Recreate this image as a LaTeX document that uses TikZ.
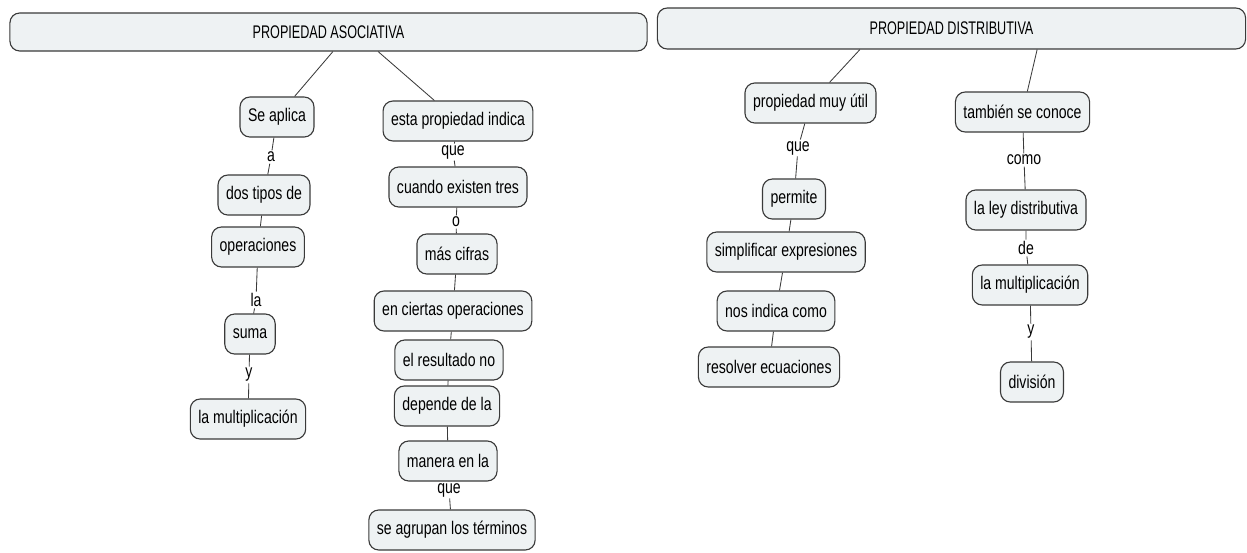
\documentclass[tikz,border=0pt]{standalone}
\usepackage{fontspec}
\setmainfont{Liberation Sans}[FakeStretch=0.77]
\newfontfamily\barfont{Liberation Sans}[FakeStretch=0.69]
\usetikzlibrary{positioning}
\definecolor{conceptfill}{HTML}{EEF2F3}
\definecolor{conceptline}{HTML}{3A3A3A}
\tikzset{
    x=0.025cm, y=-0.025cm, % one unit is one pixel of the map, y grows downwards
    concept/.style={draw=conceptline, thick, fill=conceptfill, rounded corners=7pt, minimum height=1cm, inner xsep=0.2cm, font=\fontsize{13}{15}\selectfont}, % the boxes
    topbar/.style={concept, font=\barfont\fontsize{13}{15}\selectfont}, % the two long headings
    linkword/.style={inner sep=1pt, font=\fontsize{13}{15}\selectfont}, % words on the lines
    link/.style={draw=conceptline, semithick},
}
\begin{document}
\begin{tikzpicture}
\useasboundingbox (0,0) rectangle (1247,552);
% headings
\node[topbar, minimum width=15.925cm, minimum height=0.95cm] (asoc)  at (328.5,32)   {PROPIEDAD ASOCIATIVA};
\node[topbar, minimum width=14.7cm, minimum height=1.025cm]  (distr) at (951.5,28.5) {PROPIEDAD DISTRIBUTIVA};

% asociativa, left branch
\node[concept] (seaplica) at (277,117) {Se aplica};
\node[linkword] (a) at (271,157) {a};
\node[concept] (dostipos) at (264,195) {dos tipos de};
\node[concept] (operaciones) at (258,247) {operaciones};
\node[linkword] (la) at (256,300) {la};
\node[concept] (suma) at (250,334) {suma};
\node[linkword] (y1) at (249,375) {y};
\node[concept] (multA) at (248,419) {la multiplicación};

% asociativa, right branch
\node[concept] (indica) at (458,121) {esta propiedad indica};
\node[linkword] (que1) at (453,152) {que};
\node[concept] (existen) at (458,187) {cuando existen tres};
\node[linkword] (o) at (456,222) {o};
\node[concept] (cifras) at (457,254) {más cifras};
\node[concept] (ciertas) at (453,311) {en ciertas operaciones};
\node[concept] (resultado) at (449,360) {el resultado no};
\node[concept] (depende) at (447,406) {depende de la};
\node[concept] (manera) at (448,461) {manera en la};
\node[linkword] (que2) at (449,490) {que};
\node[concept] (agrupan) at (452,530) {se agrupan los términos};

% distributiva, left branch
\node[concept] (util) at (810.5,103) {propiedad muy útil};
\node[linkword] (que3) at (798,148) {que};
\node[concept] (permite) at (794,199) {permite};
\node[concept] (simplificar) at (786,252) {simplificar expresiones};
\node[concept] (nosindica) at (776,311) {nos indica como};
\node[concept] (resolver) at (769,367) {resolver ecuaciones};

% distributiva, right branch
\node[concept] (conoce) at (1022.5,112) {también se conoce};
\node[linkword] (como) at (1024,160) {como};
\node[concept] (ley) at (1026,210) {la ley distributiva};
\node[linkword] (de) at (1026,248) {de};
\node[concept] (multB) at (1030,285) {la multiplicación};
\node[linkword] (y2) at (1031,332) {y};
\node[concept] (division) at (1032,382) {división};

\draw[link] ([xshift=0.11cm]asoc.south) -- (seaplica);
\draw[link] ([xshift=1.24cm]asoc.south) -- (indica);
\draw[link] (seaplica) -- (a) -- (dostipos);
\draw[link] (dostipos) -- (operaciones);
\draw[link] (operaciones) -- (la) -- (suma);
\draw[link] (suma) -- (y1) -- (multA);
\draw[link] (indica) -- (que1) -- (existen);
\draw[link] (existen) -- (o) -- (cifras);
\draw[link] (cifras) -- (ciertas);
\draw[link] (ciertas) -- (resultado);
\draw[link] (resultado) -- (depende);
\draw[link] (depende) -- (manera);
\draw[link] (manera) -- (que2) -- (agrupan);

\draw[link] ([xshift=-2.29cm]distr.south) -- (util);
\draw[link] ([xshift=2.14cm]distr.south) -- (conoce);
\draw[link] (util) -- (que3) -- (permite);
\draw[link] (permite) -- (simplificar);
\draw[link] (simplificar) -- (nosindica);
\draw[link] (nosindica) -- (resolver);
\draw[link] (conoce) -- (como) -- (ley);
\draw[link] (ley) -- (de) -- (multB);
\draw[link] (multB) -- (y2) -- (division);
\end{tikzpicture}
\end{document}
